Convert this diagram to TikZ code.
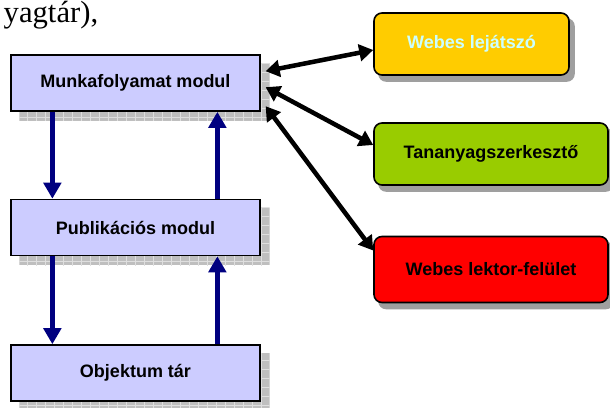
\documentclass[tikz,border=0pt]{standalone}
\usepackage{fontspec}
\setmainfont{Liberation Serif}
\setsansfont{Liberation Sans}
\usetikzlibrary{arrows.meta,calc,backgrounds}

\definecolor{lila}{RGB}{204,204,255}
\definecolor{sarga}{RGB}{255,204,0}
\definecolor{zold}{RGB}{153,204,0}
\definecolor{piros}{RGB}{255,0,0}
\definecolor{kekes}{RGB}{204,255,255}
\definecolor{sotetkek}{RGB}{0,0,128}

\begin{document}
\begin{tikzpicture}[x=0.75pt,y=-0.75pt,
        modul/.style={rectangle, draw, line width=1.2pt, fill=lila,
                      minimum width=186.5pt, minimum height=42pt, inner sep=0pt,
                      font=\sffamily\bfseries\fontsize{13.5}{16}\selectfont},
        kliens/.style={rectangle, draw, line width=1.2pt, rounded corners=6pt,
                       minimum height=46.5pt, inner sep=0pt,
                       font=\sffamily\bfseries\fontsize{13.5}{16}\selectfont},
        folyam/.style={draw=sotetkek, line width=4.2pt, -{Triangle[length=12pt,width=13pt]}},
        kapcsolat/.style={line width=3.4pt, {Triangle[length=10.5pt,width=12.5pt]}-{Triangle[length=10.5pt,width=12.5pt]}}
    ]
    \clip (0,0) rectangle (610,407);

        % Szoveg maradvany felul
        \node[anchor=base west, font=\fontsize{23}{26}\selectfont] (szoveg) at (-1,22) {yagtár),};

        % Modulok bal oldalon
        \node[modul] (munka) at (135.5,83) {Munkafolyamat modul};
        \node[modul] (publ) at (135.5,227.5) {Publikációs modul};
        \node[modul] (obj) at (135.5,373) {Objektum tár};

        % Feluletek jobb oldalon
        \node[kliens, fill=sarga, text=kekes, minimum width=146.25pt] (lejatszo) at (471.5,44) {Webes lejátszó};
        \node[kliens, fill=zold, minimum width=175.5pt] (szerk) at (491,154) {Tananyagszerkesztő};
        \node[kliens, fill=piros, minimum width=175.5pt, minimum height=49.5pt] (lektor) at (491,269.5) {Webes lektor-felület};

        % Arnyekok
        \begin{scope}[on background layer]
            \foreach \n in {munka,publ,obj} {
                \begin{scope}
                    \clip ($(\n.north west)+(9,9)$) rectangle ($(\n.south east)+(9,9)$);
                    \fill[gray!50] ($(\n.north west)+(9,9)$) rectangle ($(\n.south east)+(9,9)$);
                    \draw[gray!25, line width=0.5pt, step=6.75pt] ($(\n.north west)+(0,0)$) grid ($(\n.south east)+(20,20)$);
                \end{scope}
            }
            \foreach \n in {lejatszo,szerk,lektor}
                \fill[gray!75, rounded corners=6pt] ($(\n.north west)+(5,6)$) rectangle ($(\n.south east)+(5,6)$);
        \end{scope}

        % Kek nyilak a modulok kozott
        \draw[folyam] ([xshift=31.5pt]munka.south west) -- ([xshift=31.5pt]publ.north west);
        \draw[folyam] ([xshift=31.5pt]publ.south west) -- ([xshift=31.5pt]obj.north west);
        \draw[folyam] ([xshift=155.25pt]obj.north west) -- ([xshift=155.25pt]publ.south west);
        \draw[folyam] ([xshift=155.25pt]publ.north west) -- ([xshift=155.25pt]munka.south west);

        % Ketiranyu kapcsolatok
        \draw[kapcsolat] ($(munka.north east)+(5,17)$) -- ($(lejatszo.west)+(0,6)$);
        \draw[kapcsolat] ($(munka.north east)+(5,33)$) -- ($(szerk.west)+(0,-9)$);
        \draw[kapcsolat] ($(munka.north east)+(5,52)$) -- ($(lektor.west)+(0,-19)$);

    \end{tikzpicture}
\end{document}
